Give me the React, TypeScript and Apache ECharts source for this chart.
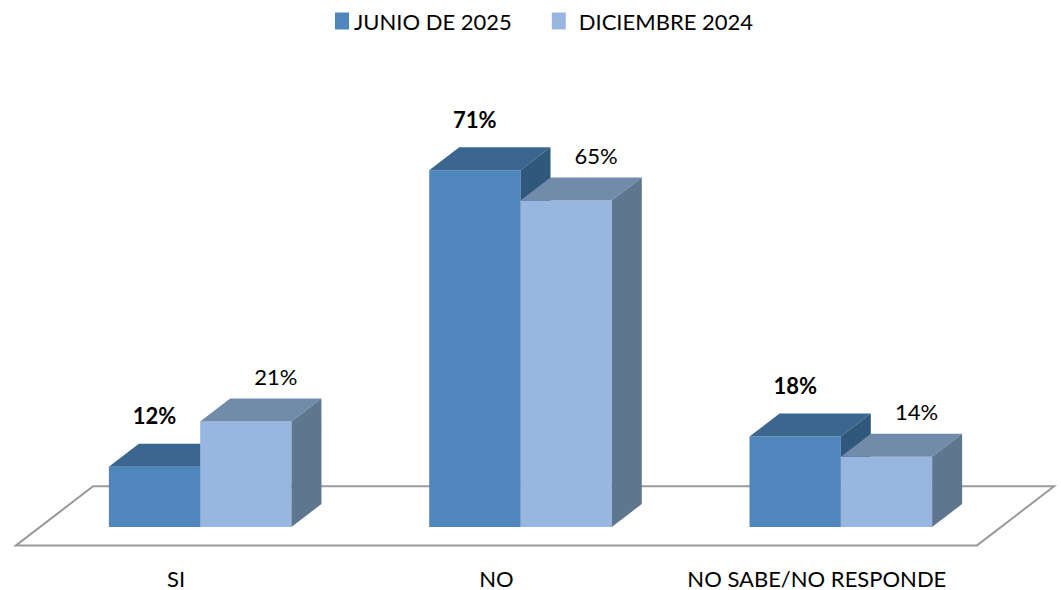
import React, { useEffect, useRef } from "react";
import * as echarts from "echarts";

const categories = ["SI", "NO", "NO SABE/NO RESPONDE"];
const seriesNames = ["JUNIO DE 2025", "DICIEMBRE 2024"];
const junio2025 = [12, 71, 18];
const diciembre2024 = [21, 65, 14];

const FONT = "Lato, 'Liberation Sans', sans-serif";
const DX = 30;
const DY = -23;

const palettes = [
  { front: "#4F86BC", top: "#3A6690", side: "#30587A" },
  { front: "#97B7E0", top: "#718CAA", side: "#5F768F" },
];

function makeBarRender(idx: number) {
  return (params: any, api: any) => {
    const cat = api.value(0);
    const val = api.value(1);
    const top = api.coord([cat, val]);
    const base = api.coord([cat, 0]);
    const band = api.size([1, 0])[0];
    const bw = band * 0.285;
    const x0 = top[0] + (idx === 0 ? -bw : 0);
    const x1 = x0 + bw;
    const yT = top[1];
    const yB = base[1];
    const c = palettes[idx];
    const labelX = idx === 0 ? (x0 + x1) / 2 : (x0 + x1) / 2 + DX;
    return {
      type: "group",
      children: [
        { type: "rect", shape: { x: x0, y: yT, width: bw, height: yB - yT }, style: { fill: c.front } },
        {
          type: "polygon",
          shape: { points: [[x0, yT], [x0 + DX, yT + DY], [x1 + DX, yT + DY], [x1, yT]] },
          style: { fill: c.top },
        },
        {
          type: "polygon",
          shape: { points: [[x1, yT], [x1 + DX, yT + DY], [x1 + DX, yB + DY], [x1, yB]] },
          style: { fill: c.side },
        },
        {
          type: "text",
          x: labelX,
          y: yT + DY - (idx === 0 ? 28 : 22),
          style: {
            text: val + "%",
            fill: "#000",
            font: (idx === 0 ? "bold " : "") + "22px " + FONT,
            align: "center",
            verticalAlign: "middle",
          },
        },
      ],
    };
  };
}

function floorRender(params: any, api: any) {
  const c0 = api.coord([0, 0]);
  const band = api.size([1, 0])[0];
  const lx = c0[0] - band / 2;
  const rx = c0[0] + (categories.length - 0.5) * band;
  const y = c0[1];
  const fx = -0.8 * DX, fy = -0.8 * DY;
  const bx = 1.77 * DX, by = 1.77 * DY;
  return {
    type: "polygon",
    shape: {
      points: [
        [lx + fx, y + fy],
        [lx + bx, y + by],
        [rx + bx, y + by],
        [rx + fx, y + fy],
      ],
    },
    style: { fill: "#fff", stroke: "#9a9a9a", lineWidth: 2 },
  };
}

export default function App() {
  const ref = useRef<HTMLDivElement>(null);
  useEffect(() => {
    const chart = echarts.init(ref.current!, null, { renderer: "svg" });
    chart.setOption({
      animation: false,
      backgroundColor: "#fff",
      legend: {
        data: seriesNames,
        top: 5,
        left: 330,
        icon: "rect",
        itemWidth: 14,
        itemHeight: 17,
        itemGap: 40,
        formatter: (name: string) =>
          name === seriesNames[1] ? "{p|" + name + "}" : "{n|" + name + "}",
        textStyle: {
          fontFamily: FONT,
          fontSize: 22,
          color: "#000",
          rich: {
            n: { fontFamily: FONT, fontSize: 22, color: "#000" },
            p: { fontFamily: FONT, fontSize: 22, color: "#000", padding: [0, 0, 0, 8] },
          },
        },
      },
      grid: { left: 40, right: 60, top: 125, bottom: 63 },
      xAxis: {
        type: "category",
        data: categories,
        axisLine: { show: false },
        axisTick: { show: false },
        axisLabel: {
          interval: 0,
          hideOverlap: false,
          fontFamily: FONT,
          fontSize: 22,
          color: "#000",
          margin: 40,
          padding: [0, 48, 0, 0],
        },
      },
      yAxis: { type: "value", min: 0, max: 80, show: false, splitLine: { show: false } },
      series: [
        {
          type: "custom",
          name: "floor",
          renderItem: floorRender,
          data: [[0, 0]],
          silent: true,
          clip: false,
          z: 1,
        },
        {
          type: "custom",
          name: seriesNames[0],
          renderItem: makeBarRender(0),
          itemStyle: { color: palettes[0].front },
          data: junio2025.map((v, i) => [i, v]),
          encode: { x: 0, y: 1 },
          clip: false,
          z: 2,
        },
        {
          type: "custom",
          name: seriesNames[1],
          renderItem: makeBarRender(1),
          itemStyle: { color: palettes[1].front },
          data: diciembre2024.map((v, i) => [i, v]),
          encode: { x: 0, y: 1 },
          clip: false,
          z: 3,
        },
      ],
    });
    return () => chart.dispose();
  }, []);
  return (
    <div
      ref={ref}
      style={{ position: "fixed", left: 0, top: 0, width: 1061, height: 590 }}
    />
  );
}
